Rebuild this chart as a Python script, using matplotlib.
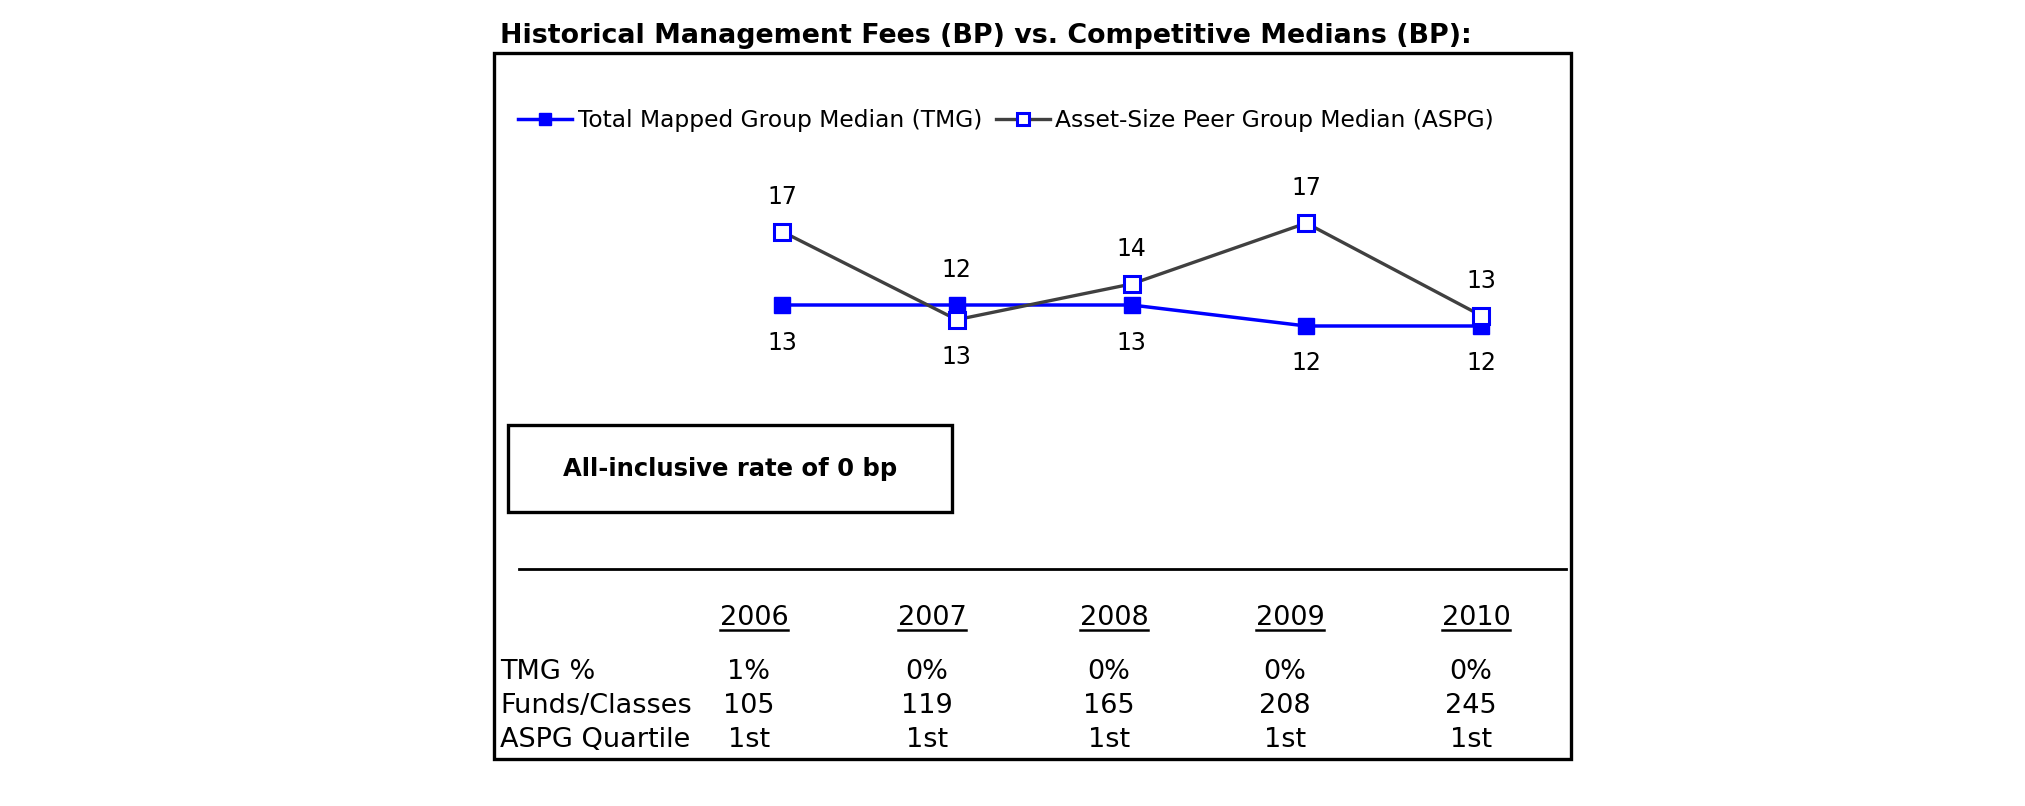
import matplotlib
matplotlib.use("Agg")
import matplotlib.pyplot as plt
from matplotlib.patches import Rectangle

plt.rcParams['font.family'] = ['DejaVu Sans']

# 数据
years = ["2006", "2007", "2008", "2009", "2010"]
tmg = [13.0, 13.0, 13.0, 12.0, 12.0]
aspg = [16.5, 12.3, 14.0, 16.9, 12.5]
tmg_labels = ["13", "13", "13", "12", "12"]
aspg_labels = ["17", "12", "14", "17", "13"]

row_names = ["TMG %", "Funds/Classes", "ASPG Quartile"]
tmg_pct = ["1%", "0%", "0%", "0%", "0%"]
funds_classes = ["105", "119", "165", "208", "245"]
aspg_quartile = ["1st", "1st", "1st", "1st", "1st"]

W, H = 2025, 806
fig = plt.figure(figsize=(W / 100, H / 100), dpi=100)

# 背景层，像素坐标
bg = fig.add_axes([0, 0, 1, 1])
bg.set_xlim(0, W)
bg.set_ylim(H, 0)
bg.axis("off")

bg.text(500, 36, "Historical Management Fees (BP) vs. Competitive Medians (BP):",
        fontsize=19.4, fontweight="bold", va="center", ha="left")
bg.add_patch(Rectangle((494, 53), 1077, 706, fill=False, lw=2.4, ec="black"))
bg.add_patch(Rectangle((508, 425), 444, 87, fill=False, lw=2.4, ec="black"))
bg.text(730, 469, "All-inclusive rate of 0 bp", fontsize=17.5, fontweight="bold",
        ha="center", va="center")
bg.plot([519, 1566], [569, 569], color="black", lw=2.0)

# 表格
fs_tab = 19.5
col_x = [754, 932, 1114, 1290, 1476]
for x, y in zip(col_x, years):
    bg.text(x, 618, y, fontsize=fs_tab, ha="center", va="center")
rows = [tmg_pct, funds_classes, aspg_quartile]
row_y = [672, 706, 740]
for name, vals, y in zip(row_names, rows, row_y):
    bg.text(500, y, name, fontsize=fs_tab, ha="left", va="center")
    for x, v in zip(col_x, vals):
        bg.text(x - 5, y, v, fontsize=fs_tab, ha="center", va="center")

# 年份下划线
fig.canvas.draw()
r = fig.canvas.get_renderer()
for t in bg.texts:
    if t.get_text() in years:
        bb = t.get_window_extent(r).transformed(bg.transData.inverted())
        bg.plot([bb.x0, bb.x1], [630, 630], color="black", lw=1.8)

# 折线图
x0, x1 = 782, 1481
step = (x1 - x0) / 4
left = x0 - step / 2
ylo, yhi = 10, 19
px_per = 21
top_px = 305 - (yhi - 13) * px_per
bot_px = 305 + (13 - ylo) * px_per
ax = fig.add_axes([left / W, 1 - bot_px / H, (step * 5) / W, (bot_px - top_px) / H])
ax.set_xlim(-0.5, 4.5)
ax.set_ylim(ylo, yhi)
ax.axis("off")
ax.patch.set_alpha(0)

xs = list(range(len(years)))
ax.plot(xs, tmg, color="#0000ff", lw=2.5, marker="s", ms=12, mfc="#0000ff",
        mec="#0000ff", label="Total Mapped Group Median (TMG)")
ax.plot(xs, aspg, color="#404040", lw=2.4, marker="s", ms=11, mfc="white",
        mec="#0000ff", mew=2.2, label="Asset-Size Peer Group Median (ASPG)")

for i in xs:
    hi = max(tmg[i], aspg[i])
    lo = min(tmg[i], aspg[i])
    ax.annotate(aspg_labels[i], (i, hi), xytext=(0, 25), textcoords="offset points",
                ha="center", va="center", fontsize=17)
    ax.annotate(tmg_labels[i], (i, lo), xytext=(0, -27), textcoords="offset points",
                ha="center", va="center", fontsize=17)

leg = fig.legend(loc="center left", bbox_to_anchor=(518 / W, 1 - 121 / H), ncol=2,
                 frameon=False, fontsize=16.8, handlelength=2.3, handletextpad=0.25,
                 columnspacing=0.6, borderpad=0, borderaxespad=0, markerscale=0.75)

fig.savefig("out.png", dpi=100)
plt.close()
